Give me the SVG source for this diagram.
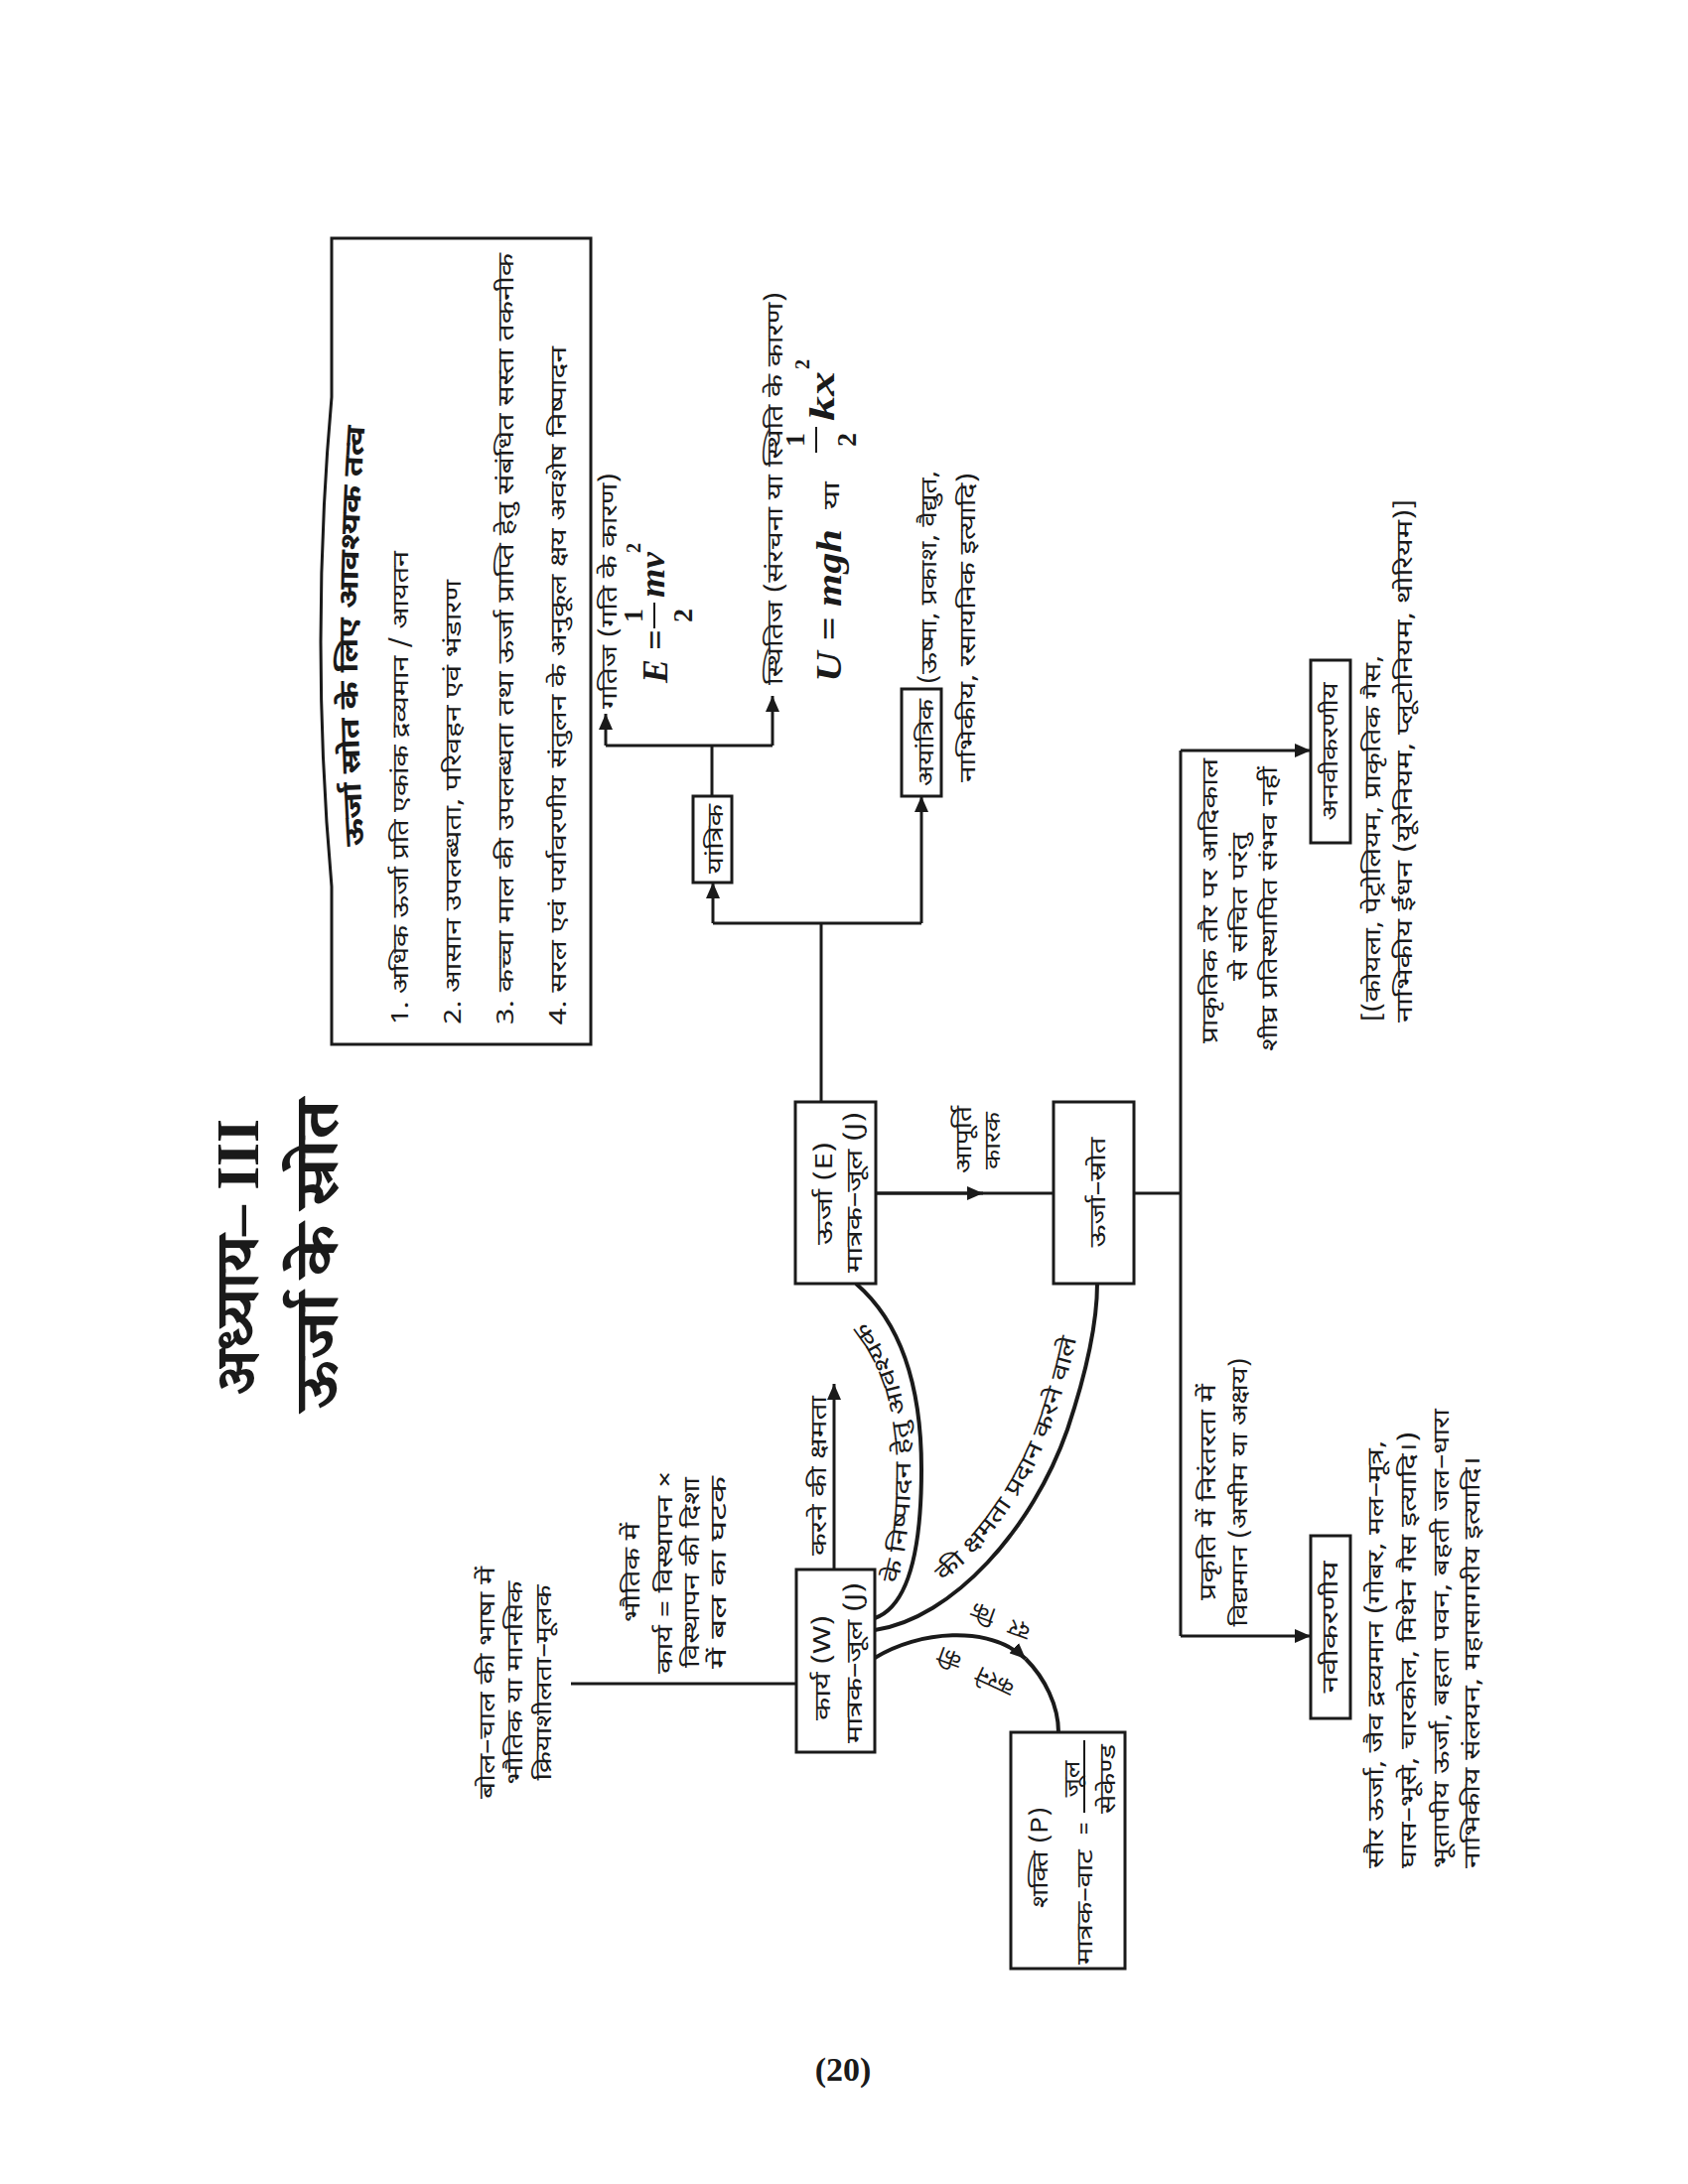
<svg xmlns="http://www.w3.org/2000/svg" width="1700" height="2200" viewBox="0 0 1700 2200">
<defs>
<style>
text{font-family:"Noto Sans Devanagari","Noto Sans","Liberation Sans",sans-serif;font-size:23px;fill:#1a1a1a}
.ttl{font-family:"Liberation Serif","Noto Serif Devanagari","Noto Sans Devanagari",serif;font-weight:bold;font-size:62px}
.hd{font-weight:bold;font-size:27px}
.fm{font-family:"Liberation Serif",serif;font-style:italic;font-weight:bold;font-size:36px}
.fn{font-family:"Liberation Serif",serif;font-weight:bold;font-size:28px}
.sup{font-family:"Liberation Serif",serif;font-weight:bold;font-size:20px}
.pg{font-family:"Liberation Serif",serif;font-weight:bold;font-size:34px}
.box{fill:#fff;stroke:#1a1a1a;stroke-width:3}
.ln{fill:none;stroke:#1a1a1a;stroke-width:3}
.cv{fill:none;stroke:#1a1a1a;stroke-width:4}
</style>
<marker id="ah" viewBox="0 0 16 14" refX="16" refY="7" markerWidth="16" markerHeight="14" markerUnits="userSpaceOnUse" orient="auto"><path d="M0,0 L16,7 L0,14 z" fill="#1a1a1a"/></marker>
<path id="p-ess" d="M368,872 Q352,646 368,420"/>
<path id="p-c1" d="M902,1600 C913,1565 917,1525 917,1480 C917,1410 896,1360 868,1328"/>
<path id="p-c2" d="M868,1633 C948,1619 1027,1529 1061,1431 C1081,1371 1091,1324 1092,1288"/>
</defs>
<rect width="1700" height="2200" fill="#fff"/>

<g id="title">
<text class="ttl" x="260" y="1405" transform="rotate(-90 260 1405)" textLength="278" lengthAdjust="spacingAndGlyphs">अध्याय– III</text>
<text class="ttl" x="340" y="1420" transform="rotate(-90 340 1420)" textLength="312" lengthAdjust="spacingAndGlyphs">ऊर्जा के स्रोत</text>
</g>

<g id="essentials">
<path class="box" d="M334,240 H595 V1052 H334 V893 Q312,646 334,400 Z"/>
<text class="hd"><textPath href="#p-ess" startOffset="20" textLength="423" lengthAdjust="spacingAndGlyphs">ऊर्जा स्रोत के लिए आवश्यक तत्व</textPath></text>
<text x="411" y="1032" transform="rotate(-90 411 1032)" textLength="477" lengthAdjust="spacingAndGlyphs">1. अधिक ऊर्जा प्रति एकांक द्रव्यमान / आयतन</text>
<text x="464" y="1032" transform="rotate(-90 464 1032)" textLength="448" lengthAdjust="spacingAndGlyphs">2. आसान उपलब्धता, परिवहन एवं भंडारण</text>
<text x="517" y="1032" transform="rotate(-90 517 1032)" textLength="777" lengthAdjust="spacingAndGlyphs">3. कच्चा माल की उपलब्धता तथा ऊर्जा प्राप्ति हेतु संबंधित सस्ता तकनीक</text>
<text x="570" y="1032" transform="rotate(-90 570 1032)" textLength="683" lengthAdjust="spacingAndGlyphs">4. सरल एवं पर्यावरणीय संतुलन के अनुकूल क्षय अवशेष निष्पादन</text>
</g>

<g id="connectors">
<path class="ln" d="M717,802 V751"/>
<path class="ln" d="M610,751 H778"/>
<path class="ln" d="M610,751 V719" marker-end="url(#ah)"/>
<path class="ln" d="M778,751 V701" marker-end="url(#ah)"/>
<path class="ln" d="M827,1110 V930"/>
<path class="ln" d="M718,930 H928"/>
<path class="ln" d="M718,930 V889" marker-end="url(#ah)"/>
<path class="ln" d="M928,930 V802" marker-end="url(#ah)"/>
<path class="ln" d="M882,1202 H1061"/>
<path class="ln" d="M882,1202 H990" marker-end="url(#ah)"/>
<path class="ln" d="M1142,1202 H1189"/>
<path class="ln" d="M1189,756 V1648"/>
<path class="ln" d="M1189,756 H1320" marker-end="url(#ah)"/>
<path class="ln" d="M1189,1648 H1320" marker-end="url(#ah)"/>
<path class="ln" d="M575,1696 H802"/>
<path class="ln" d="M840,1581 V1394" marker-end="url(#ah)"/>
<path class="cv" d="M881,1630 C915,1618 928,1560 928,1480 C928,1390 905,1330 862,1293"/>
<path class="cv" d="M881,1642 C960,1630 1040,1540 1075,1440 C1095,1380 1105,1330 1105,1293"/>
<path class="cv" d="M881,1670 C925,1643 995,1636 1033,1671" marker-end="url(#ah)"/>
<path class="cv" d="M1033,1671 C1052,1690 1066,1718 1066,1745"/>
</g>

<g id="kinetic">
<text x="621" y="714" transform="rotate(-90 621 714)" textLength="238" lengthAdjust="spacingAndGlyphs">गतिज (गति के कारण)</text>
<text class="fm" x="672" y="688" transform="rotate(-90 672 688)">E =</text>
<text class="fn" x="647" y="620" text-anchor="middle" transform="rotate(-90 647 620)">1</text>
<line x1="659" y1="607" x2="659" y2="633" stroke="#1a1a1a" stroke-width="2"/>
<text class="fn" x="697" y="620" text-anchor="middle" transform="rotate(-90 697 620)">2</text>
<text class="fm" x="669" y="602" transform="rotate(-90 669 602)" textLength="46" lengthAdjust="spacingAndGlyphs">mv</text>
<text class="sup" x="645" y="557" transform="rotate(-90 645 557)">2</text>
</g>

<g id="potential">
<text x="788" y="690" transform="rotate(-90 788 690)" textLength="396" lengthAdjust="spacingAndGlyphs">स्थितिज (संरचना या स्थिति के कारण)</text>
<text class="fm" x="847" y="687" transform="rotate(-90 847 687)" textLength="154" lengthAdjust="spacingAndGlyphs">U = mgh</text>
<text x="845" y="513" font-size="26" transform="rotate(-90 845 513)" textLength="28" lengthAdjust="spacingAndGlyphs">या</text>
<text class="fn" x="810" y="443" text-anchor="middle" transform="rotate(-90 810 443)">1</text>
<line x1="822" y1="430" x2="822" y2="456" stroke="#1a1a1a" stroke-width="2"/>
<text class="fn" x="862" y="443" text-anchor="middle" transform="rotate(-90 862 443)">2</text>
<text class="fm" x="840" y="424" transform="rotate(-90 840 424)" textLength="50" lengthAdjust="spacingAndGlyphs">kx</text>
<text class="sup" x="815" y="372" transform="rotate(-90 815 372)">2</text>
</g>

<g id="mechanical">
<rect class="box" x="698" y="802" width="39" height="87"/>
<text x="728" y="845" text-anchor="middle" transform="rotate(-90 728 845)" textLength="70" lengthAdjust="spacingAndGlyphs">यांत्रिक</text>
</g>

<g id="nonmechanical">
<rect class="box" x="908" y="694" width="40" height="108"/>
<text x="940" y="748" text-anchor="middle" transform="rotate(-90 940 748)" textLength="88" lengthAdjust="spacingAndGlyphs">अयांत्रिक</text>
<text x="943" y="689" transform="rotate(-90 943 689)" textLength="215" lengthAdjust="spacingAndGlyphs">(ऊष्मा, प्रकाश, वैद्युत,</text>
<text x="982" y="788" transform="rotate(-90 982 788)" textLength="312" lengthAdjust="spacingAndGlyphs">नाभिकीय, रसायनिक इत्यादि)</text>
</g>

<g id="energy">
<rect class="box" x="801" y="1110" width="81" height="183"/>
<text x="838" y="1202" text-anchor="middle" transform="rotate(-90 838 1202)" textLength="104" lengthAdjust="spacingAndGlyphs">ऊर्जा (E)</text>
<text x="868" y="1201" text-anchor="middle" transform="rotate(-90 868 1201)" textLength="162" lengthAdjust="spacingAndGlyphs">मात्रक–जूल (J)</text>
</g>

<g id="supply-label">
<text x="978" y="1148" text-anchor="middle" transform="rotate(-90 978 1148)" textLength="68" lengthAdjust="spacingAndGlyphs">आपूर्ति</text>
<text x="1007" y="1149" text-anchor="middle" transform="rotate(-90 1007 1149)" textLength="58" lengthAdjust="spacingAndGlyphs">कारक</text>
</g>

<g id="energy-source">
<rect class="box" x="1061" y="1110" width="81" height="183"/>
<text x="1113" y="1201" text-anchor="middle" transform="rotate(-90 1113 1201)" textLength="111" lengthAdjust="spacingAndGlyphs">ऊर्जा–स्रोत</text>
</g>

<g id="nonrenewable">
<text x="1226" y="1051" transform="rotate(-90 1226 1051)" textLength="287" lengthAdjust="spacingAndGlyphs">प्राकृतिक तौर पर आदिकाल</text>
<text x="1256" y="988" transform="rotate(-90 1256 988)" textLength="149" lengthAdjust="spacingAndGlyphs">से संचित परंतु</text>
<text x="1286" y="1059" transform="rotate(-90 1286 1059)" textLength="287" lengthAdjust="spacingAndGlyphs">शीघ्र प्रतिस्थापित संभव नहीं</text>
<rect class="box" x="1320" y="665" width="40" height="184"/>
<text x="1347" y="757" text-anchor="middle" transform="rotate(-90 1347 757)" textLength="139" lengthAdjust="spacingAndGlyphs">अनवीकरणीय</text>
<text x="1390" y="1030" transform="rotate(-90 1390 1030)" textLength="370" lengthAdjust="spacingAndGlyphs">[(कोयला, पेट्रोलियम, प्राकृतिक गैस,</text>
<text x="1422" y="1030" transform="rotate(-90 1422 1030)" textLength="528" lengthAdjust="spacingAndGlyphs">नाभिकीय ईंधन (यूरेनियम, प्लूटोनियम, थोरियम)]</text>
</g>

<g id="renewable">
<text x="1224" y="1503" text-anchor="middle" transform="rotate(-90 1224 1503)" textLength="218" lengthAdjust="spacingAndGlyphs">प्रकृति में निरंतरता में</text>
<text x="1256" y="1503" text-anchor="middle" transform="rotate(-90 1256 1503)" textLength="271" lengthAdjust="spacingAndGlyphs">विद्यमान (असीम या अक्षय)</text>
<rect class="box" x="1320" y="1547" width="40" height="184"/>
<text x="1347" y="1639" text-anchor="middle" transform="rotate(-90 1347 1639)" textLength="133" lengthAdjust="spacingAndGlyphs">नवीकरणीय</text>
<text x="1393" y="1882" transform="rotate(-90 1393 1882)" textLength="431" lengthAdjust="spacingAndGlyphs">सौर ऊर्जा, जैव द्रव्यमान (गोबर, मल–मूत्र,</text>
<text x="1426" y="1882" transform="rotate(-90 1426 1882)" textLength="440" lengthAdjust="spacingAndGlyphs">घास–भूसे, चारकोल, मिथेन गैस इत्यादि।)</text>
<text x="1459" y="1882" transform="rotate(-90 1459 1882)" textLength="463" lengthAdjust="spacingAndGlyphs">भूतापीय ऊर्जा, बहता पवन, बहती जल–धारा</text>
<text x="1490" y="1882" transform="rotate(-90 1490 1882)" textLength="415" lengthAdjust="spacingAndGlyphs">नाभिकीय संलयन, महासागरीय इत्यादि।</text>
</g>

<g id="work-def">
<text x="498" y="1695" text-anchor="middle" transform="rotate(-90 498 1695)" textLength="234" lengthAdjust="spacingAndGlyphs">बोल–चाल की भाषा में</text>
<text x="526" y="1695" text-anchor="middle" transform="rotate(-90 526 1695)" textLength="205" lengthAdjust="spacingAndGlyphs">भौतिक या मानसिक</text>
<text x="555" y="1695" text-anchor="middle" transform="rotate(-90 555 1695)" textLength="197" lengthAdjust="spacingAndGlyphs">क्रियाशीलता–मूलक</text>
<text x="644" y="1584" text-anchor="middle" transform="rotate(-90 644 1584)" textLength="100" lengthAdjust="spacingAndGlyphs">भौतिक में</text>
<text x="677" y="1584" text-anchor="middle" transform="rotate(-90 677 1584)" textLength="204" lengthAdjust="spacingAndGlyphs">कार्य = विस्थापन ×</text>
<text x="704" y="1584" text-anchor="middle" transform="rotate(-90 704 1584)" textLength="192" lengthAdjust="spacingAndGlyphs">विस्थापन की दिशा</text>
<text x="731" y="1584" text-anchor="middle" transform="rotate(-90 731 1584)" textLength="194" lengthAdjust="spacingAndGlyphs">में बल का घटक</text>
</g>

<g id="work">
<rect class="box" x="802" y="1581" width="79" height="184"/>
<text x="836" y="1680" text-anchor="middle" transform="rotate(-90 836 1680)" textLength="106" lengthAdjust="spacingAndGlyphs">कार्य (W)</text>
<text x="868" y="1675" text-anchor="middle" transform="rotate(-90 868 1675)" textLength="162" lengthAdjust="spacingAndGlyphs">मात्रक–जूल (J)</text>
<text x="832" y="1567" transform="rotate(-90 832 1567)" textLength="161" lengthAdjust="spacingAndGlyphs">करने की क्षमता</text>
</g>

<g id="curve-labels">
<text><textPath href="#p-c1" startOffset="5" textLength="275" lengthAdjust="spacingAndGlyphs">के निष्पादन हेतु आवश्यक</textPath></text>
<text><textPath href="#p-c2" startOffset="92" textLength="285" lengthAdjust="spacingAndGlyphs">की क्षमता प्रदान करने वाले</textPath></text>
<text x="991" y="1623" font-size="22" text-anchor="middle" dominant-baseline="central" transform="rotate(200 991 1623)">कि</text>
<text x="1027" y="1640" font-size="22" text-anchor="middle" dominant-baseline="central" transform="rotate(200 1027 1640)">दर</text>
<text x="957" y="1668" font-size="22" text-anchor="middle" dominant-baseline="central" transform="rotate(200 957 1668)">की</text>
<text x="1003" y="1692" font-size="22" text-anchor="middle" dominant-baseline="central" transform="rotate(205 1003 1692)">करने</text>
</g>

<g id="power">
<rect class="box" x="1018" y="1745" width="115" height="238"/>
<text x="1055" y="1922" transform="rotate(-90 1055 1922)" textLength="102" lengthAdjust="spacingAndGlyphs">शक्ति (P)</text>
<text x="1100" y="1979" transform="rotate(-90 1100 1979)" textLength="116" lengthAdjust="spacingAndGlyphs">मात्रक–वाट</text>
<text x="1099" y="1842" text-anchor="middle" transform="rotate(-90 1099 1842)">=</text>
<text x="1087" y="1792" text-anchor="middle" transform="rotate(-90 1087 1792)" textLength="37" lengthAdjust="spacingAndGlyphs">जूल</text>
<line x1="1092" y1="1753" x2="1092" y2="1826" stroke="#1a1a1a" stroke-width="2"/>
<text x="1123" y="1792" text-anchor="middle" transform="rotate(-90 1123 1792)" textLength="70" lengthAdjust="spacingAndGlyphs">सेकेण्ड</text>
</g>

<g id="page-number">
<text class="pg" x="849" y="2096" text-anchor="middle">(20)</text>
</g>
</svg>
